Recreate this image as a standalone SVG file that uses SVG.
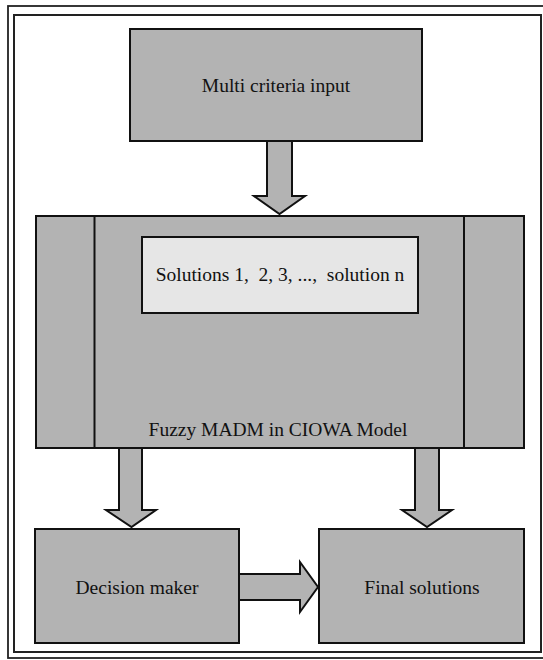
<svg xmlns="http://www.w3.org/2000/svg" width="543" height="660" viewBox="0 0 543 660">
<style>
.box{fill:#b3b3b3;stroke:#111;stroke-width:2}
.inner{fill:#e6e6e6;stroke:#111;stroke-width:2}
.arrow{fill:#b3b3b3;stroke:#111;stroke-width:2;stroke-linejoin:miter}
.t{font-family:"Liberation Serif","Times New Roman",serif;font-size:19.5px;fill:#111;text-anchor:middle;white-space:pre}
.frame{fill:none;stroke:#222}
</style>
<rect width="543" height="660" fill="#fff"/>
<g id="frame">
<rect class="frame" x="8" y="6" width="540" height="652" stroke-width="1.8"/>
<rect class="frame" x="14" y="15" width="527" height="637" stroke-width="2"/>
</g>
<g id="connectors">
<polygon class="arrow" points="267,141 292,141 292,196 305,196 279.5,214 254,196 267,196"/>
<polygon class="arrow" points="119,448 142,448 142,510 156,510 131.5,527 106,510 119,510"/>
<polygon class="arrow" points="415,448 439,448 439,510 452,510 427,527 402,510 415,510"/>
<polygon class="arrow" points="239,574 300,574 300,562 318,587 300,612 300,600 239,600"/>
</g>
<g id="input">
<rect class="box" x="130" y="29" width="292" height="112"/>
<text class="t" x="276" y="92">Multi criteria input</text>
</g>
<g id="madm">
<rect class="box" x="36" y="216" width="488" height="232"/>
<line x1="94.5" y1="216" x2="94.5" y2="448" stroke="#111" stroke-width="2"/>
<line x1="464" y1="216" x2="464" y2="448" stroke="#111" stroke-width="2"/>
<text class="t" x="278" y="436">Fuzzy MADM in CIOWA Model</text>
</g>
<g id="solutions">
<rect class="inner" x="142" y="237" width="276" height="76"/>
<text class="t" x="280" y="281">Solutions 1,  2, 3, ...,  solution n</text>
</g>
<g id="decision">
<rect class="box" x="35" y="529" width="204" height="114"/>
<text class="t" x="137" y="594">Decision maker</text>
</g>
<g id="final">
<rect class="box" x="319" y="529" width="205" height="114"/>
<text class="t" x="422" y="594">Final solutions</text>
</g>
</svg>
